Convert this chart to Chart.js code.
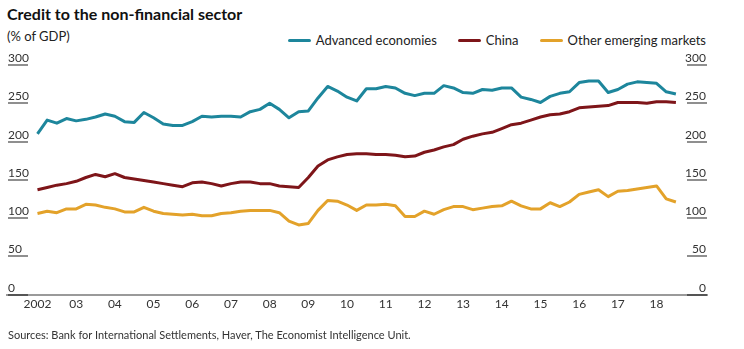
<!DOCTYPE html>
<html>
<head>
<meta charset="utf-8">
<title>Credit to the non-financial sector</title>
<script src="https://cdn.jsdelivr.net/npm/chart.js@4.4.1/dist/chart.umd.min.js"></script>
<style>
  body {
    margin: 0;
    width: 744px;
    height: 349px;
    background: #fff;
    font-family: Lato, "Open Sans", sans-serif;
    color: #222;
    position: relative;
    overflow: hidden;
  }
  #chart { position: absolute; left: 0; top: 0; }
  .title {
    position: absolute; left: 7px; top: 6px;
    font-size: 16px; font-weight: 700; line-height: 1; color: #111;
  }
  .subtitle {
    position: absolute; left: 7px; top: 30px;
    font-size: 13px; line-height: 1; color: #222;
  }
  #legend {
    position: absolute; top: 34px; right: 38px;
    display: flex; font-size: 13px; line-height: 1; color: #222;
  }
  #legend .item { display: flex; align-items: center; margin-left: 21px; }
  #legend .swatch { width: 23px; height: 3px; border-radius: 2px; margin-right: 5px; }
  .source {
    position: absolute; left: 8px; top: 329px;
    font-size: 11px; line-height: 1; color: #333;
  }
</style>
</head>
<body>
<div class="title">Credit to the non-financial sector</div>
<div class="subtitle">(% of GDP)</div>
<div id="legend"></div>
<canvas id="chart" width="744" height="349"></canvas>
<div class="source">Sources: Bank for International Settlements, Haver, The Economist Intelligence Unit.</div>

<script>
// Quarterly credit, % of GDP, 2002 Q1 - 2018 Q3
const advanced = [
  210, 228, 224, 230, 227, 229, 232, 236, 233, 226, 225, 238, 231, 223, 221, 221,
  226, 233, 232, 233, 233, 232, 239, 242, 250, 242, 231, 239, 240, 257, 272, 266,
  258, 253, 269, 269, 272, 270, 263, 260, 263, 263, 273, 270, 264, 263, 268, 267,
  270, 270, 258, 255, 251, 259, 263, 265, 277, 279, 279, 264, 268, 275, 278, 277,
  276, 265, 262
];
const china = [
  137, 140, 143, 145, 148, 153, 157, 154, 158, 153, 151, 149, 147, 145, 143, 141,
  146, 147, 145, 142, 145, 147, 147, 145, 145, 142, 141, 140, 153, 168, 176, 180,
  183, 184, 184, 183, 183, 182, 180, 181, 186, 189, 193, 196, 203, 207, 210, 212,
  217, 222, 224, 228, 232, 235, 236, 239, 244, 245, 246, 247, 251, 251, 251, 250,
  252, 252, 251
];
const otherEmerging = [
  106, 109, 107, 112, 112, 118, 117, 114, 112, 108, 108, 114, 109, 106, 105, 104,
  105, 103, 103, 106, 107, 109, 110, 110, 110, 107, 96, 91, 93, 110, 123, 122,
  117, 110, 117, 117, 118, 116, 102, 102, 109, 105, 111, 115, 115, 111, 113, 115,
  116, 122, 116, 112, 112, 120, 115, 121, 131, 134, 137, 128, 135, 136, 138, 140,
  142, 125, 121
];

const seriesNames = ["Advanced economies", "China", "Other emerging markets"];
const seriesColors = ["#1d869c", "#7e1519", "#e3a22a"];

const years = [2002, 2003, 2004, 2005, 2006, 2007, 2008, 2009, 2010,
               2011, 2012, 2013, 2014, 2015, 2016, 2017, 2018];
const yearLabels = ["2002", "03", "04", "05", "06", "07", "08", "09", "10",
                    "11", "12", "13", "14", "15", "16", "17", "18"];
const yTicks = [0, 50, 100, 150, 200, 250, 300];

// x position of each quarter, in years
const quarters = advanced.map((_, i) => 2002 + i / 4);
const toPoints = arr => arr.map((v, i) => ({ x: quarters[i], y: v }));

// ===============================
// Legend
// ===============================
const legendEl = document.getElementById("legend");
seriesNames.forEach((name, i) => {
  const item = document.createElement("div");
  item.className = "item";
  item.innerHTML = `<span class="swatch" style="background:${seriesColors[i]}"></span><span>${name}</span>`;
  legendEl.appendChild(item);
});

// ===============================
// Value labels sitting on short rules, both sides
// ===============================
const sideLabels = {
  id: "sideLabels",
  afterDraw(chart) {
    const { ctx, chartArea, scales: { y } } = chart;
    const ruleW = 20;
    ctx.save();
    ctx.font = "12px Lato, 'Open Sans', sans-serif";
    ctx.fillStyle = "#333";
    ctx.textBaseline = "alphabetic";
    yTicks.forEach(v => {
      const py = Math.round(y.getPixelForValue(v));
      ctx.strokeStyle = v === 0 ? "#555" : "#8f8f8f";
      ctx.lineWidth = 2;
      ctx.beginPath();
      ctx.moveTo(chartArea.left + 1, py);
      ctx.lineTo(chartArea.left + 1 + ruleW, py);
      ctx.moveTo(chartArea.right - ruleW, py);
      ctx.lineTo(chartArea.right, py);
      ctx.stroke();
      ctx.textAlign = "left";
      ctx.fillText(String(v), chartArea.left + 1, py - 3);
      ctx.textAlign = "right";
      ctx.fillText(String(v), chartArea.right - 1, py - 3);
    });
    ctx.restore();
  }
};

// ===============================
// Chart
// ===============================
new Chart(document.getElementById("chart"), {
  type: "line",
  data: {
    datasets: [
      { label: seriesNames[0], data: toPoints(advanced), borderColor: seriesColors[0] },
      { label: seriesNames[1], data: toPoints(china), borderColor: seriesColors[1] },
      { label: seriesNames[2], data: toPoints(otherEmerging), borderColor: seriesColors[2] }
    ]
  },
  options: {
    responsive: false,
    animation: false,
    events: [],
    layout: {
      padding: { left: 7, right: 37, top: 65, bottom: 36 }
    },
    elements: {
      line: { borderWidth: 3, tension: 0, borderJoinStyle: "round", fill: false },
      point: { radius: 0 }
    },
    plugins: {
      legend: { display: false },
      tooltip: { enabled: false }
    },
    scales: {
      x: {
        type: "linear",
        min: 2001.212,
        max: 2019.304,
        afterBuildTicks: axis => {
          axis.ticks = years.map(v => ({ value: v }));
        },
        grid: { display: false, drawTicks: false },
        border: { display: true, color: "#9a9a9a", width: 2 },
        ticks: {
          autoSkip: false,
          maxRotation: 0,
          padding: 2,
          color: "#333",
          font: { family: "Lato, 'Open Sans', sans-serif", size: 12 },
          callback: v => yearLabels[years.indexOf(v)]
        }
      },
      y: {
        display: false,
        min: 0,
        max: 300
      }
    }
  },
  plugins: [sideLabels]
});
</script>
</body>
</html>
